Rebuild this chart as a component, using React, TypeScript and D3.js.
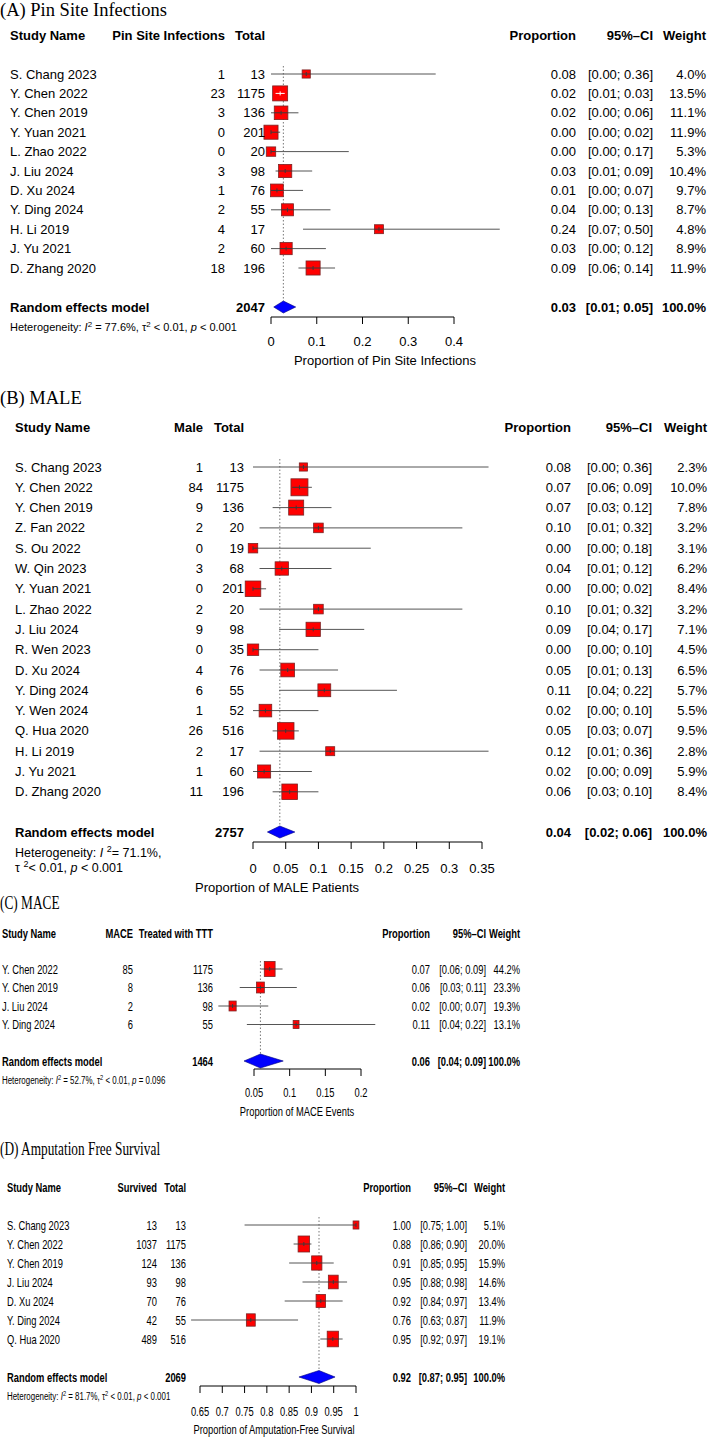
import * as d3 from 'd3';

const SANS = '"Liberation Sans", Arial, Helvetica, sans-serif';
const SERIF = '"Liberation Serif", "Times New Roman", serif';

// (A) Pin Site Infections
const aStudies = ['S. Chang 2023', 'Y. Chen 2022', 'Y. Chen 2019', 'Y. Yuan 2021', 'L. Zhao 2022', 'J. Liu 2024', 'D. Xu 2024', 'Y. Ding 2024', 'H. Li 2019', 'J. Yu 2021', 'D. Zhang 2020'];
const aEvents = [1, 23, 3, 0, 0, 3, 1, 2, 4, 2, 18];
const aTotals = [13, 1175, 136, 201, 20, 98, 76, 55, 17, 60, 196];
const aProp = [0.077, 0.02, 0.022, 0, 0, 0.031, 0.013, 0.036, 0.236, 0.033, 0.092];
const aLower = [0.0, 0.01, 0.0, 0.0, 0.0, 0.01, 0.0, 0.0, 0.07, 0.0, 0.06];
const aUpper = [0.36, 0.03, 0.06, 0.02, 0.17, 0.09, 0.07, 0.13, 0.5, 0.12, 0.14];
const aWeight = [4.0, 13.5, 11.1, 11.9, 5.3, 10.4, 9.7, 8.7, 4.8, 8.9, 11.9];
const aPooled = [0.027, 0.006, 0.054];
const aTicks = [0, 0.1, 0.2, 0.3, 0.4];
const aHet = ['77.6%', '< 0.01', '< 0.001'];

// (B) MALE
const bStudies = ['S. Chang 2023', 'Y. Chen 2022', 'Y. Chen 2019', 'Z. Fan 2022', 'S. Ou 2022', 'W. Qin 2023', 'Y. Yuan 2021', 'L. Zhao 2022', 'J. Liu 2024', 'R. Wen 2023', 'D. Xu 2024', 'Y. Ding 2024', 'Y. Wen 2024', 'Q. Hua 2020', 'H. Li 2019', 'J. Yu 2021', 'D. Zhang 2020'];
const bEvents = [1, 84, 9, 2, 0, 3, 0, 2, 9, 0, 4, 6, 1, 26, 2, 1, 11];
const bTotals = [13, 1175, 136, 20, 19, 68, 201, 20, 98, 35, 76, 55, 52, 516, 17, 60, 196];
const bProp = [0.077, 0.071, 0.066, 0.1, 0, 0.044, 0, 0.1, 0.092, 0, 0.053, 0.109, 0.019, 0.05, 0.118, 0.017, 0.056];
const bLower = [0.0, 0.06, 0.03, 0.01, 0.0, 0.01, 0.0, 0.01, 0.04, 0.0, 0.01, 0.04, 0.0, 0.03, 0.01, 0.0, 0.03];
const bUpper = [0.36, 0.09, 0.12, 0.32, 0.18, 0.12, 0.02, 0.32, 0.17, 0.1, 0.13, 0.22, 0.1, 0.07, 0.36, 0.09, 0.1];
const bWeight = [2.3, 10.0, 7.8, 3.2, 3.1, 6.2, 8.4, 3.2, 7.1, 4.5, 6.5, 5.7, 5.5, 9.5, 2.8, 5.9, 8.4];
const bPooled = [0.041, 0.022, 0.064];
const bTicks = [0, 0.05, 0.1, 0.15, 0.2, 0.25, 0.3, 0.35];
const bHet = ['71.1%', '< 0.01', '< 0.001'];

// (C) MACE
const cStudies = ['Y. Chen 2022', 'Y. Chen 2019', 'J. Liu 2024', 'Y. Ding 2024'];
const cEvents = [85, 8, 2, 6];
const cTotals = [1175, 136, 98, 55];
const cProp = [0.072, 0.059, 0.02, 0.109];
const cLower = [0.06, 0.03, 0.0, 0.04];
const cUpper = [0.09, 0.11, 0.07, 0.22];
const cWeight = [44.2, 23.3, 19.3, 13.1];
const cPooled = [0.059, 0.036, 0.091];
const cTicks = [0.05, 0.1, 0.15, 0.2];
const cHet = ['52.7%', '< 0.01', '= 0.096'];

// (D) Amputation Free Survival
const dStudies = ['S. Chang 2023', 'Y. Chen 2022', 'Y. Chen 2019', 'J. Liu 2024', 'D. Xu 2024', 'Y. Ding 2024', 'Q. Hua 2020'];
const dEvents = [13, 1037, 124, 93, 70, 42, 489];
const dTotals = [13, 1175, 136, 98, 76, 55, 516];
const dProp = [1.0, 0.883, 0.912, 0.949, 0.921, 0.764, 0.948];
const dLower = [0.75, 0.86, 0.85, 0.88, 0.84, 0.63, 0.92];
const dUpper = [1.0, 0.9, 0.95, 0.98, 0.97, 0.87, 0.97];
const dWeight = [5.1, 20.0, 15.9, 14.6, 13.4, 11.9, 19.1];
const dPooled = [0.917, 0.872, 0.953];
const dTicks = [0.65, 0.7, 0.75, 0.8, 0.85, 0.9, 0.95, 1];
const dHet = ['81.7%', '< 0.01', '< 0.001'];

const f2 = d3.format('.2f');
const f1 = d3.format('.1f');

function Txt({ x, y, sx = 1, anchor = 'start', bold = false, size = 13, family = SANS, children }: any) {
  return (
    <text transform={`translate(${x},${y}) scale(${sx},1)`} textAnchor={anchor}
      fontWeight={bold ? 'bold' : 'normal'} fontSize={size} fontFamily={family} fill="#000">
      {children}
    </text>
  );
}

function Het({ x, y, sx, size, het, split, gap }: any) {
  const up = -size * 0.4;
  const sup = (k: string) => <tspan key={k} dy={up} fontSize={size * 0.72}>2</tspan>;
  if (split) {
    return (
      <g>
        <Txt x={x} y={y} sx={sx} size={size}>
          <tspan>Heterogeneity: </tspan><tspan fontStyle="italic">I </tspan>{sup('a')}
          <tspan dy={-up}>{`= ${het[0]},`}</tspan>
        </Txt>
        <Txt x={x} y={y + gap} sx={sx} size={size}>
          <tspan>{'τ '}</tspan>{sup('b')}<tspan dy={-up}>{`${het[1]}, `}</tspan>
          <tspan fontStyle="italic">p</tspan><tspan>{` ${het[2]}`}</tspan>
        </Txt>
      </g>
    );
  }
  return (
    <Txt x={x} y={y} sx={sx} size={size}>
      <tspan>Heterogeneity: </tspan><tspan fontStyle="italic">I</tspan>{sup('a')}
      <tspan dy={-up}>{` = ${het[0]}, τ`}</tspan>{sup('b')}
      <tspan dy={-up}>{` ${het[1]}, `}</tspan><tspan fontStyle="italic">p</tspan>
      <tspan>{` ${het[2]}`}</tspan>
    </Txt>
  );
}

function Panel({ d, L }: any) {
  const x = d3.scaleLinear().domain(L.domain).range(L.range);
  const wMax = d3.max(d.weight as number[]) as number;
  const rowC = (i: number) => L.row0 + i * L.step;
  const b = 4.5;
  const sx = L.sx;
  const [pe, pl, pu] = d.pooled;
  const total = d3.sum(d.totals as number[]);
  return (
    <g>
      <Txt x={0} y={L.titleY} sx={sx} size={18.5} family={SERIF}>{L.title}</Txt>
      {/* header */}
      <Txt x={L.nameX} y={L.headerC + b} sx={sx} bold>Study Name</Txt>
      <Txt x={L.evX} y={L.headerC + b} sx={sx} bold anchor="end">{L.evHeader}</Txt>
      <Txt x={L.totX} y={L.headerC + b} sx={sx} bold anchor="end">{L.totHeader}</Txt>
      <Txt x={L.propX} y={L.headerC + b} sx={sx} bold anchor="end">Proportion</Txt>
      <Txt x={L.ciX} y={L.headerC + b} sx={sx} bold anchor="end">95%–CI</Txt>
      <Txt x={L.wX} y={L.headerC + b} sx={sx} bold anchor="end">Weight</Txt>
      {/* reference line */}
      <line x1={x(pe)} x2={x(pe)} y1={rowC(0) - 8} y2={L.reC - L.diaH / 2}
        stroke="#777" strokeWidth={1} strokeDasharray="1.5,2" />
      {d.studies.map((s: string, i: number) => {
        const c = rowC(i);
        const h = L.boxMax * Math.sqrt(d.weight[i] / wMax);
        const w = h * sx;
        const cx = x(d.prop[i]);
        const inside = x(d.lower[i]) > cx - w / 2 && x(d.upper[i]) < cx + w / 2;
        const lc = inside ? '#fff' : '#3a3a3a';
        return (
          <g key={s}>
            {!inside && <line x1={x(d.lower[i])} x2={x(d.upper[i])} y1={c} y2={c} stroke="#555" strokeWidth={1} />}
            <rect x={cx - w / 2} y={c - h / 2} width={w} height={h} fill="#ff0000" stroke="#7a2424" strokeWidth={0.8} />
            <line x1={Math.max(x(d.lower[i]), cx - w / 2)} x2={Math.min(x(d.upper[i]), cx + w / 2)} y1={c} y2={c} stroke={lc} strokeWidth={1} />
            <line x1={cx} x2={cx} y1={c - 2} y2={c + 2} stroke={lc} strokeWidth={1} />
            <Txt x={L.nameX} y={c + b} sx={sx}>{s}</Txt>
            <Txt x={L.evX} y={c + b} sx={sx} anchor="end">{d.events[i]}</Txt>
            <Txt x={L.totX} y={c + b} sx={sx} anchor="end">{d.totals[i]}</Txt>
            <Txt x={L.propX} y={c + b} sx={sx} anchor="end">{f2(d.prop[i])}</Txt>
            <Txt x={L.ciX} y={c + b} sx={sx} anchor="end">{`[${f2(d.lower[i])}; ${f2(d.upper[i])}]`}</Txt>
            <Txt x={L.wX} y={c + b} sx={sx} anchor="end">{`${f1(d.weight[i])}%`}</Txt>
          </g>
        );
      })}
      {/* pooled */}
      <path d={`M${x(pl)},${L.reC} L${x(pe)},${L.reC - L.diaH / 2} L${x(pu)},${L.reC} L${x(pe)},${L.reC + L.diaH / 2} Z`}
        fill="#0000ff" stroke="#00007a" strokeWidth={0.6} />
      <Txt x={L.nameX} y={L.reC + b} sx={sx} bold>Random effects model</Txt>
      <Txt x={L.totX} y={L.reC + b} sx={sx} bold anchor="end">{total}</Txt>
      <Txt x={L.propX} y={L.reC + b} sx={sx} bold anchor="end">{f2(pe)}</Txt>
      <Txt x={L.ciX} y={L.reC + b} sx={sx} bold anchor="end">{`[${f2(pl)}; ${f2(pu)}]`}</Txt>
      <Txt x={L.wX} y={L.reC + b} sx={sx} bold anchor="end">100.0%</Txt>
      <Het x={L.nameX} y={L.hetC + 4} sx={sx} size={L.hetSize} het={d.het} split={L.hetSplit} gap={15} />
      {/* axis */}
      <line x1={x(d.ticks[0])} x2={x(d.ticks[d.ticks.length - 1])} y1={L.axisY} y2={L.axisY} stroke="#000" strokeWidth={1} />
      {d.ticks.map((t: number) => (
        <g key={t}>
          <line x1={x(t)} x2={x(t)} y1={L.axisY} y2={L.axisY + 7} stroke="#000" strokeWidth={1} />
          <Txt x={x(t)} y={L.tickC + b} sx={sx} anchor="middle">{String(t)}</Txt>
        </g>
      ))}
      <Txt x={L.axisTitleX} y={L.axisTitleC + b} sx={sx} anchor="middle">{L.axisTitle}</Txt>
    </g>
  );
}

const panels = [
  {
    d: { studies: aStudies, events: aEvents, totals: aTotals, prop: aProp, lower: aLower, upper: aUpper, weight: aWeight, pooled: aPooled, ticks: aTicks, het: aHet },
    L: { sx: 1, title: '(A) Pin Site Infections', titleY: 16, headerC: 35, row0: 74, step: 19.4, reC: 307, hetC: 327, hetSize: 11, hetSplit: false,
      nameX: 10, evX: 225, totX: 265, propX: 576, ciX: 653, wX: 706, evHeader: 'Pin Site Infections', totHeader: 'Total',
      domain: [0, 0.4], range: [271, 454], axisY: 317, tickC: 341, axisTitleC: 360, axisTitleX: 385, axisTitle: 'Proportion of Pin Site Infections',
      boxMax: 15, diaH: 12 },
  },
  {
    d: { studies: bStudies, events: bEvents, totals: bTotals, prop: bProp, lower: bLower, upper: bUpper, weight: bWeight, pooled: bPooled, ticks: bTicks, het: bHet },
    L: { sx: 1, title: '(B) MALE', titleY: 404, headerC: 427, row0: 467, step: 20.3, reC: 832, hetC: 853, hetSize: 12.5, hetSplit: true,
      nameX: 15, evX: 203, totX: 244, propX: 571, ciX: 652, wX: 707, evHeader: 'Male', totHeader: 'Total',
      domain: [0, 0.35], range: [253, 482], axisY: 842, tickC: 868, axisTitleC: 887, axisTitleX: 277, axisTitle: 'Proportion of MALE Patients',
      boxMax: 17, diaH: 12 },
  },
  {
    d: { studies: cStudies, events: cEvents, totals: cTotals, prop: cProp, lower: cLower, upper: cUpper, weight: cWeight, pooled: cPooled, ticks: cTicks, het: cHet },
    L: { sx: 0.72, title: '(C) MACE', titleY: 909, headerC: 933, row0: 969, step: 18.5, reC: 1061, hetC: 1080, hetSize: 11, hetSplit: false,
      nameX: 2, evX: 133, totX: 213, propX: 430, ciX: 486, wX: 520, evHeader: 'MACE', totHeader: 'Treated with TTT',
      domain: [0.05, 0.2], range: [254, 361], axisY: 1069, tickC: 1092, axisTitleC: 1111, axisTitleX: 297, axisTitle: 'Proportion of MACE Events',
      boxMax: 15, diaH: 14 },
  },
  {
    d: { studies: dStudies, events: dEvents, totals: dTotals, prop: dProp, lower: dLower, upper: dUpper, weight: dWeight, pooled: dPooled, ticks: dTicks, het: dHet },
    L: { sx: 0.72, title: '(D) Amputation Free Survival', titleY: 1155, headerC: 1187, row0: 1225, step: 19, reC: 1377, hetC: 1396, hetSize: 11, hetSplit: false,
      nameX: 7, evX: 157, totX: 186, propX: 411, ciX: 467, wX: 505, evHeader: 'Survived', totHeader: 'Total',
      domain: [0.65, 1], range: [200, 356], axisY: 1386, tickC: 1411, axisTitleC: 1429, axisTitleX: 274, axisTitle: 'Proportion of Amputation-Free Survival',
      boxMax: 16, diaH: 13 },
  },
];

export default function App() {
  return (
    <svg width={709} height={1437} style={{ position: 'absolute', left: 0, top: 0, background: '#fff' }}>
      <rect width={709} height={1437} fill="#fff" />
      {panels.map((p, i) => <Panel key={i} d={p.d} L={p.L} />)}
    </svg>
  );
}
